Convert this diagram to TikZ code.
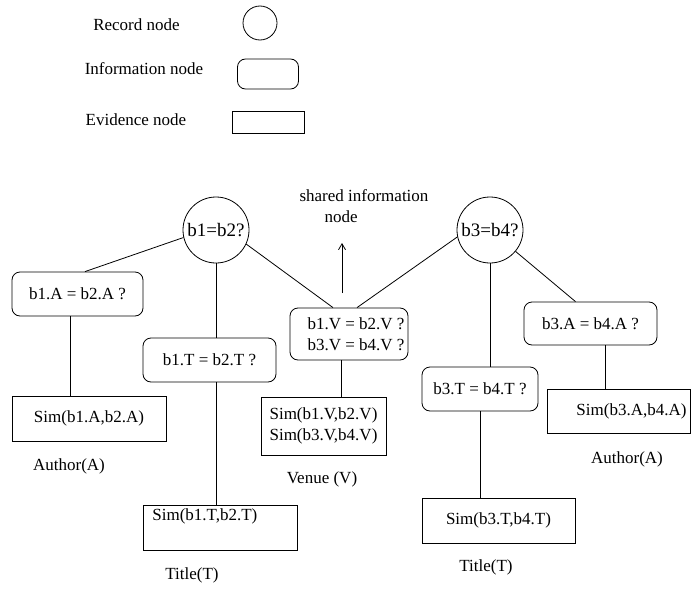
\documentclass[tikz,border=0pt]{standalone}
\usepackage{fontspec}
\setmainfont{Liberation Serif}
\usetikzlibrary{arrows.meta}
\begin{document}
\begin{tikzpicture}[x=1pt,y=-1pt,
  every node/.style={font=\fontsize{17}{21.5}\selectfont},
  conn/.style={line width=0.8pt},
  recnode/.style={draw, circle, line width=0.8pt, minimum size=66pt, inner sep=0pt, font=\fontsize{19}{22}\selectfont},
  infonode/.style={draw, rounded corners=8pt, line width=0.8pt, inner sep=0pt, align=center},
  evnode/.style={draw, line width=0.8pt, inner sep=0pt, align=center},
  lbl/.style={inner sep=0pt}
]
\useasboundingbox (0,0) rectangle (691,589);
% legend
\node[lbl] (lr) at (136.5,25) {Record node};
\node[recnode, minimum size=34pt] (lrs) at (260,23) {};
\node[lbl] (li) at (144,69) {Information node};
\node[infonode, minimum width=61pt, minimum height=30pt] (lis) at (268,74) {};
\node[lbl] (le) at (136,120) {Evidence node};
\node[evnode, minimum width=72pt, minimum height=22pt] (les) at (268,122) {};
% record nodes
\node[recnode] (c1) at (216,230) {b1=b2?};
\node[recnode] (c2) at (490,230) {b3=b4?};
% information nodes
\node[infonode, minimum width=131pt, minimum height=44pt] (ia) at (77.5,294) {b1.A = b2.A ?};
\node[infonode, minimum width=133pt, minimum height=44pt] (t1) at (209.5,360) {b1.T = b2.T ?};
\node[infonode, minimum width=118pt, minimum height=52pt] (v) at (349,334) {\hspace*{14pt}b1.V = b2.V ?\\\hspace*{14pt}b3.V = b4.V ?};
\node[infonode, minimum width=116pt, minimum height=44pt] (t2) at (480,389) {b3.T = b4.T ?};
\node[infonode, minimum width=133pt, minimum height=43pt] (a2) at (590.5,323.5) {b3.A = b4.A ?};
% evidence nodes
\node[evnode, minimum width=154pt, minimum height=45pt] (sa) at (89,418.5) {Sim(b1.A,b2.A)};
\node[evnode, anchor=north west, text width=136pt, align=left, inner xsep=9pt, inner ysep=0pt, text height=15pt, text depth=30pt] (st1) at (143,505) {Sim(b1.T,b2.T)};
\node[evnode, minimum width=125pt, minimum height=58pt] (sv) at (323.5,426) {Sim(b1.V,b2.V)\\Sim(b3.V,b4.V)};
\node[evnode, minimum width=153pt, minimum height=45pt] (st2) at (498.5,520.5) {Sim(b3.T,b4.T)};
\node[evnode, minimum width=143pt, minimum height=44pt] (sa2) at (618.5,411) {\hspace*{26pt}Sim(b3.A,b4.A)};
% labels
\node[lbl] (la1) at (69,466) {Author(A)};
\node[lbl] (lv) at (322,479) {Venue (V)};
\node[lbl] (lt1) at (192,575) {Title(T)};
\node[lbl] (lt2) at (486,567) {Title(T)};
\node[lbl] (la2) at (627,459) {Author(A)};
\node[lbl, align=left] (sh) at (364,206) {shared information\\\hspace*{25pt}node};
% arrow
\coordinate (arrb) at (342,293);
\coordinate (arrt) at (342,243);
\draw[conn,-{Straight Barb[length=6pt,width=7pt]}] (arrb) -- (arrt);
% connectors
\draw[conn] (c1.193) -- ([xshift=7.5pt]ia.north);
\draw[conn] (c1.south) -- (c1.south |- t1.north);
\draw[conn] (c1.south |- t1.south) -- (c1.south |- st1.north);
\draw[conn] (c1.-25) -- ([xshift=-16pt]v.north);
\draw[conn] (c2.192) -- ([xshift=8pt]v.north);
\draw[conn] (c2) -- ([xshift=-15pt]a2.north);
\draw[conn] (c2.south) -- (c2.south |- t2.north);
\draw[conn] (t2.south) -- (t2.south |- st2.north);
\draw[conn] ([xshift=-7.5pt]ia.south) -- ([xshift=-7.5pt]ia.south |- sa.north);
\draw[conn] ([xshift=-8pt]v.south) -- ([xshift=-8pt]v.south |- sv.north);
\draw[conn] ([xshift=14.5pt]a2.south) -- ([xshift=14.5pt]a2.south |- sa2.north);
\end{tikzpicture}
\end{document}
